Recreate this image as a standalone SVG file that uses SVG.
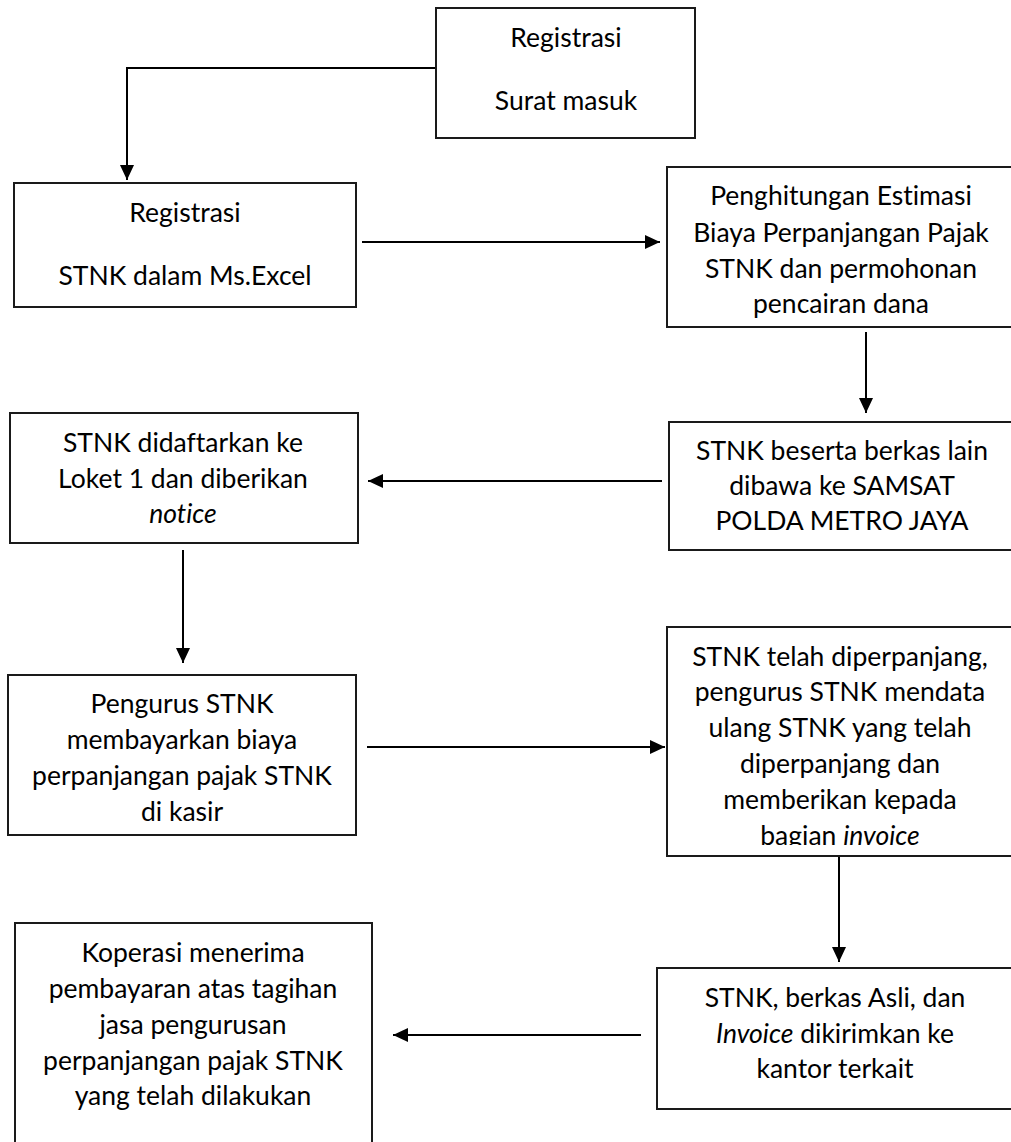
<svg xmlns="http://www.w3.org/2000/svg" width="1011" height="1142" viewBox="0 0 1011 1142">
<defs>
<style>
.box{fill:#fff;stroke:#1a1a1a;stroke-width:2}
.t{font-family:Lato,"Liberation Sans",sans-serif;font-size:26.5px;fill:#000;text-anchor:middle;font-variant-ligatures:none}
.i{font-style:italic}
.c{fill:none;stroke:#000;stroke-width:2}
</style>
<marker id="ah" viewBox="0 0 15 14" refX="15" refY="7" markerWidth="15" markerHeight="14" markerUnits="userSpaceOnUse" orient="auto">
<path d="M0,0 L15,7 L0,14 Z" fill="#000"/>
</marker>
<clipPath id="clipG"><rect x="667" y="627" width="350" height="218"/></clipPath>
</defs>
<rect width="1011" height="1142" fill="#fff"/>
<g id="connectors">
<path class="c" d="M436,68 H127 V180" marker-end="url(#ah)"/>
<path class="c" d="M362,242 H660" marker-end="url(#ah)"/>
<path class="c" d="M866,332 V413" marker-end="url(#ah)"/>
<path class="c" d="M662,481 H368" marker-end="url(#ah)"/>
<path class="c" d="M183,550 V663" marker-end="url(#ah)"/>
<path class="c" d="M367,747 H665" marker-end="url(#ah)"/>
<path class="c" d="M839,857 V962" marker-end="url(#ah)"/>
<path class="c" d="M641,1035 H393" marker-end="url(#ah)"/>
</g>
<g id="n1">
<rect class="box" x="436" y="8" width="259" height="130"/>
<text class="t" x="566" y="47">Registrasi</text>
<text class="t" x="566" y="110">Surat masuk</text>
</g>
<g id="n2">
<rect class="box" x="14" y="183" width="342" height="124"/>
<text class="t" x="185" y="222">Registrasi</text>
<text class="t" x="185" y="285">STNK dalam Ms.Excel</text>
</g>
<g id="n3">
<rect class="box" x="667" y="167" width="350" height="160"/>
<text class="t" x="841" y="205">Penghitungan Estimasi</text>
<text class="t" x="841" y="242">Biaya Perpanjangan Pajak</text>
<text class="t" x="841" y="278">STNK dan permohonan</text>
<text class="t" x="841" y="313">pencairan dana</text>
</g>
<g id="n4">
<rect class="box" x="669" y="422" width="350" height="128"/>
<text class="t" x="842" y="460">STNK beserta berkas lain</text>
<text class="t" x="842" y="495">dibawa ke SAMSAT</text>
<text class="t" x="842" y="530">POLDA METRO JAYA</text>
</g>
<g id="n5">
<rect class="box" x="10" y="413" width="348" height="130"/>
<text class="t" x="183" y="452">STNK didaftarkan ke</text>
<text class="t" x="183" y="488">Loket 1 dan diberikan</text>
<text class="t i" x="183" y="523">notice</text>
</g>
<g id="n6">
<rect class="box" x="8" y="675" width="348" height="160"/>
<text class="t" x="182" y="713">Pengurus STNK</text>
<text class="t" x="182" y="749">membayarkan biaya</text>
<text class="t" x="182" y="785">perpanjangan pajak STNK</text>
<text class="t" x="182" y="821">di kasir</text>
</g>
<g id="n7">
<rect class="box" x="667" y="627" width="350" height="229"/>
<g clip-path="url(#clipG)">
<text class="t" x="840" y="666">STNK telah diperpanjang,</text>
<text class="t" x="840" y="701">pengurus STNK mendata</text>
<text class="t" x="840" y="737">ulang STNK yang telah</text>
<text class="t" x="840" y="773">diperpanjang dan</text>
<text class="t" x="840" y="809">memberikan kepada</text>
<text class="t" x="840" y="845">bagian <tspan class="i">invoice</tspan></text>
</g>
</g>
<g id="n8">
<rect class="box" x="657" y="968" width="360" height="141"/>
<text class="t" x="835" y="1007">STNK, berkas Asli, dan</text>
<text class="t" x="835" y="1043"><tspan class="i">Invoice</tspan> dikirimkan ke</text>
<text class="t" x="835" y="1078">kantor terkait</text>
</g>
<g id="n9">
<rect class="box" x="15" y="923" width="357" height="230"/>
<text class="t" x="193" y="962">Koperasi menerima</text>
<text class="t" x="193" y="998">pembayaran atas tagihan</text>
<text class="t" x="193" y="1034">jasa pengurusan</text>
<text class="t" x="193" y="1070">perpanjangan pajak STNK</text>
<text class="t" x="193" y="1105">yang telah dilakukan</text>
</g>
</svg>
